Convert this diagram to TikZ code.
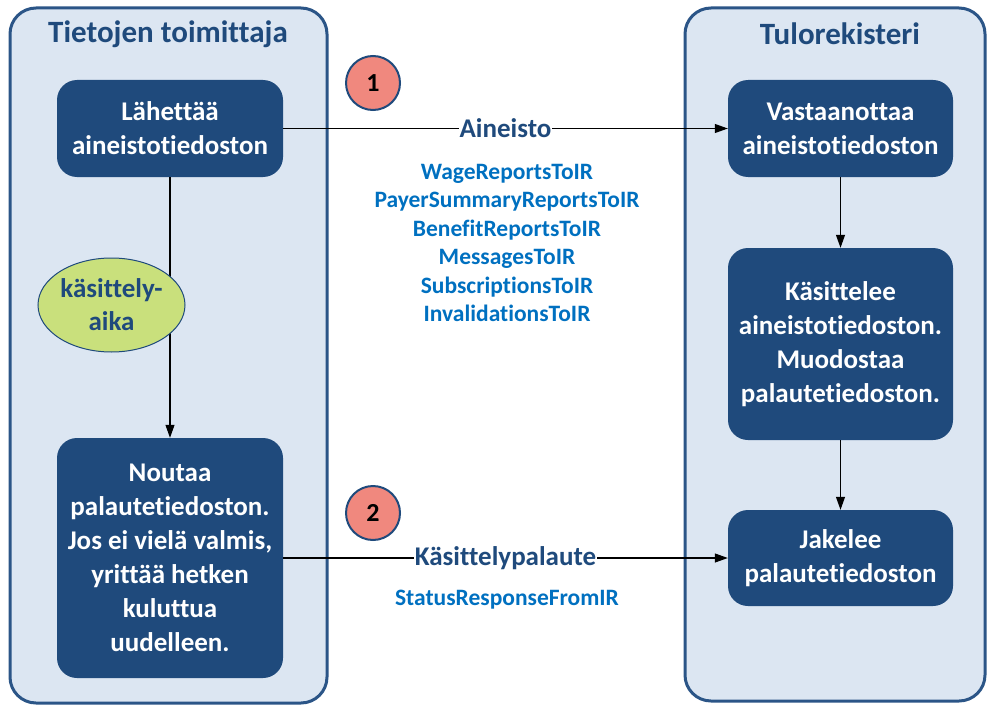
\documentclass[tikz,border=0pt]{standalone}
\usepackage{fontspec}
\setmainfont{Carlito}[Ligatures={NoCommon}]
\usetikzlibrary{arrows.meta,shapes.geometric}
\definecolor{dkblue}{HTML}{1F4A7C}
\definecolor{panelfill}{HTML}{DCE6F2}
\definecolor{panelline}{HTML}{2B5587}
\definecolor{listblue}{HTML}{0070C0}
\definecolor{salmon}{HTML}{F0887E}
\definecolor{lgreen}{HTML}{C9E07C}
\tikzset{
  panel/.style={draw=panelline, fill=panelfill, line width=3pt, rounded corners=26pt, inner sep=0pt},
  procbox/.style={fill=dkblue, rounded corners=20pt, text=white, align=center, inner sep=0pt,
    font=\bfseries\fontsize{27}{34}\selectfont},
  paneltitle/.style={text=dkblue, font=\bfseries\fontsize{31}{34}\selectfont},
  numcircle/.style={circle, draw=dkblue, line width=2pt, fill=salmon, minimum size=54pt, inner sep=0pt,
    font=\bfseries\fontsize{26}{28}\selectfont},
  flowlabel/.style={fill=white, text=dkblue, inner sep=1pt, font=\bfseries\fontsize{27}{30}\selectfont},
  listtext/.style={text=listblue, align=center, font=\bfseries\fontsize{23.5}{28.5}\selectfont},
  timeoval/.style={ellipse, draw=dkblue, line width=1pt, fill=lgreen, inner sep=0pt,
    text=dkblue, align=center, font=\bfseries\fontsize{27}{33}\selectfont},
  conn/.style={line width=1.1pt, -{Triangle[length=13pt,width=9pt]}}
}
\begin{document}
\begin{tikzpicture}[x=1pt,y=-1pt]
\useasboundingbox (0,0) rectangle (987,706);
% panels
\node[panel, minimum width=317pt, minimum height=695pt] (lpanel) at (168.5,355.5) {};
\node[panel, minimum width=300pt, minimum height=693pt] (rpanel) at (835,354.5) {};
\node[paneltitle] (ltitle) at (168,34) {Tietojen toimittaja};
\node[paneltitle] (rtitle) at (840,34) {Tulorekisteri};
% left boxes
\node[procbox, minimum width=226pt, minimum height=97pt] (send) at (170,128.5) {Lähettää\\aineistotiedoston};
\node[procbox, minimum width=226pt, minimum height=240pt] (fetch) at (170,558) {Noutaa\\palautetiedoston.\\Jos ei vielä valmis,\\yrittää hetken\\kuluttua\\uudelleen.};
% right boxes
\node[procbox, minimum width=225pt, minimum height=97pt] (recv) at (840.5,128.5) {Vastaanottaa\\aineistotiedoston};
\node[procbox, minimum width=225pt, minimum height=192pt] (proc) at (840.5,344) {Käsittelee\\aineistotiedoston.\\Muodostaa\\palautetiedoston.};
\node[procbox, minimum width=225pt, minimum height=96pt] (dist) at (840.5,558) {Jakelee\\palautetiedoston};
% circles
\node[numcircle] (c1) at (373,83) {1};
\node[numcircle] (c2) at (373,513) {2};
% connectors
\draw[conn] (send.east) -- node[flowlabel] (lab1) {Aineisto} (recv.west);
\draw[conn] (fetch.east) -- node[flowlabel] (lab2) {Käsittelypalaute} (dist.west);
\draw[conn] (send.south) -- (fetch.north);
\draw[conn] (recv.south) -- (proc.north);
\draw[conn] (proc.south) -- (dist.north);
% processing-time oval, drawn over the vertical connector
\node[timeoval, minimum width=147pt, minimum height=94pt] (time) at (111.5,305) {käsittely-\\aika};
% lists
\node[listtext] (list1) at (507,243) {WageReportsToIR\\PayerSummaryReportsToIR\\BenefitReportsToIR\\MessagesToIR\\SubscriptionsToIR\\InvalidationsToIR};
\node[listtext] (list2) at (507,600) {StatusResponseFromIR};
\end{tikzpicture}
\end{document}
